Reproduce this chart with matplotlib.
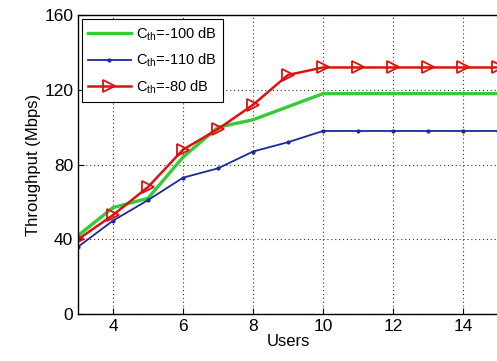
import matplotlib
matplotlib.use("Agg")
import matplotlib.pyplot as plt

plt.rcParams['font.family'] = ['Liberation Sans', 'DejaVu Sans']
plt.rcParams['mathtext.fontset'] = 'custom'
plt.rcParams['mathtext.rm'] = 'Liberation Sans'
plt.rcParams['mathtext.it'] = 'Liberation Sans'

users = [3, 4, 5, 6, 7, 8, 9, 10, 11, 12, 13, 14, 15]
c100 = [42, 57, 62, 84, 100, 104, 111, 118, 118, 118, 118, 118, 118]
c110 = [36, 50, 61, 73, 78, 87, 92, 98, 98, 98, 98, 98, 98]
c80 = [40, 53, 68, 88, 99, 112, 128, 132, 132, 132, 132, 132, 132]
labels = ['$\\mathregular{C_{th}}$=-100 dB', '$\\mathregular{C_{th}}$=-110 dB', '$\\mathregular{C_{th}}$=-80 dB']
xticks = [4, 6, 8, 10, 12, 14]
yticks = [0, 40, 80, 120, 160]

fig = plt.figure(figsize=(4.97, 3.61), dpi=100)
ax = fig.add_axes([0.157, 0.130, 0.845, 0.828])
ax.plot(users, c100, color='#33cc33', lw=2.4, label=labels[0])
ax.plot(users, c110, color='#1a2a9a', lw=1.3, marker='.', ms=4, label=labels[1])
ax.plot(users, c80, color='#dd1111', lw=1.8, marker='>', ms=8.5, mfc='none', mew=1.3, label=labels[2])

ax.set_xlim(3, 15)
ax.set_ylim(0, 160)
ax.set_xticks(xticks)
ax.set_yticks(yticks)
ax.tick_params(direction='in', labelsize=12.5, length=4, width=0.8)
ax.grid(True, linestyle=(0, (1, 2.5)), color='#333333', lw=0.8)
ax.set_xlabel('Users', fontsize=12, labelpad=0)
ax.set_ylabel('Throughput (Mbps)', fontsize=12, labelpad=2)
for s in ax.spines.values():
    s.set_linewidth(1.0)
leg = ax.legend(loc='upper left', fontsize=10.5, handlelength=2.9, handletextpad=0.35,
                fancybox=False, edgecolor='black', framealpha=1, borderaxespad=0.25,
                labelspacing=0.62, borderpad=0.45)
leg.get_frame().set_linewidth(0.8)
fig.savefig('out.png', dpi=100)
